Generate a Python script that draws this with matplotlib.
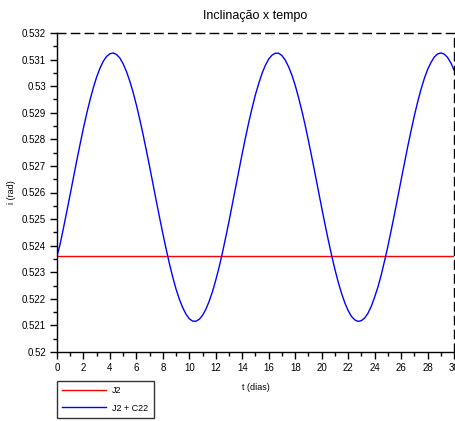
import numpy as np
import matplotlib
matplotlib.use('Agg')
from matplotlib import pyplot as plt
from matplotlib.ticker import MultipleLocator

plt.rcParams['font.family'] = ['Liberation Sans', 'DejaVu Sans']

# tempo (dias) e inclinacao, passo de 0.25 dia
t = np.arange(0, 30.001, 0.25)
i_c22 = [0.52360, 0.52409, 0.52469, 0.52531, 0.52594, 0.52658, 0.52722, 0.52783,
         0.52843, 0.52898, 0.52949, 0.52995, 0.53035, 0.53068, 0.53094, 0.53112,
         0.53122, 0.53125, 0.53119, 0.53106, 0.53084, 0.53055, 0.53019, 0.52977,
         0.52929, 0.52876, 0.52819, 0.52759, 0.52697, 0.52633, 0.52569, 0.52506,
         0.52445, 0.52387, 0.52331, 0.52281, 0.52236, 0.52198, 0.52167, 0.52142,
         0.52125, 0.52116, 0.52116, 0.52123, 0.52138, 0.52161, 0.52191, 0.52227,
         0.52271, 0.52319, 0.52373, 0.52432, 0.52492, 0.52556, 0.52620, 0.52684,
         0.52747, 0.52808, 0.52866, 0.52919, 0.52969, 0.53011, 0.53049, 0.53079,
         0.53102, 0.53117, 0.53124, 0.53124, 0.53115, 0.53098, 0.53073, 0.53042,
         0.53003, 0.52958, 0.52908, 0.52854, 0.52795, 0.52734, 0.52671, 0.52607,
         0.52543, 0.52481, 0.52421, 0.52364, 0.52311, 0.52263, 0.52221, 0.52185,
         0.52156, 0.52134, 0.52121, 0.52115, 0.52118, 0.52128, 0.52146, 0.52172,
         0.52206, 0.52244, 0.52290, 0.52342, 0.52397, 0.52457, 0.52518, 0.52582,
         0.52646, 0.52709, 0.52772, 0.52831, 0.52888, 0.52940, 0.52987, 0.53028,
         0.53062, 0.53088, 0.53109, 0.53121, 0.53125, 0.53121, 0.53109, 0.53089,
         0.53061]
i_j2 = 0.5236

fig = plt.figure(figsize=(4.56, 4.21), dpi=100)
ax = fig.add_axes([57/456, 1 - 352/421, 397/456, 319/421])

ax.plot([t[0], t[-1]], [i_j2, i_j2], color='red', lw=1.0, label='J2')
ax.plot(t, i_c22, color='blue', lw=1.0, label='J2 + C22')

ax.set_xlim(0, 30)
ax.set_ylim(0.52, 0.532)
ax.xaxis.set_major_locator(MultipleLocator(2))
ax.xaxis.set_minor_locator(MultipleLocator(1))
ax.yaxis.set_major_locator(MultipleLocator(0.001))
ax.yaxis.set_minor_locator(MultipleLocator(0.0005))
ax.set_xticklabels([f'{v:g}' for v in ax.get_xticks()])
ax.set_yticklabels([f'{v:.3f}'.rstrip('0').rstrip('.') for v in ax.get_yticks()])
ax.tick_params(which='major', length=5, width=1, labelsize=7, pad=3, color='black')
ax.tick_params(which='minor', length=3, width=1)

ax.spines['top'].set_linestyle((0, (6, 4)))
ax.spines['right'].set_linestyle((0, (6, 4)))
for s in ax.spines.values():
    s.set_linewidth(1.0)

ax.set_title('Inclinação x tempo', fontsize=9, pad=10)
ax.set_xlabel('t (dias)', fontsize=6.5, labelpad=7)
ax.set_ylabel('i (rad)', fontsize=6.5, labelpad=4)

ax.legend(loc='upper left', bbox_to_anchor=(57/456, 1 - 381/421),
          bbox_transform=fig.transFigure, fontsize=6.5, frameon=True,
          fancybox=False, edgecolor='black', borderaxespad=0,
          handlelength=4.8, handletextpad=0.7, borderpad=0.6, labelspacing=0.9)

plt.savefig('out.png', dpi=100)
